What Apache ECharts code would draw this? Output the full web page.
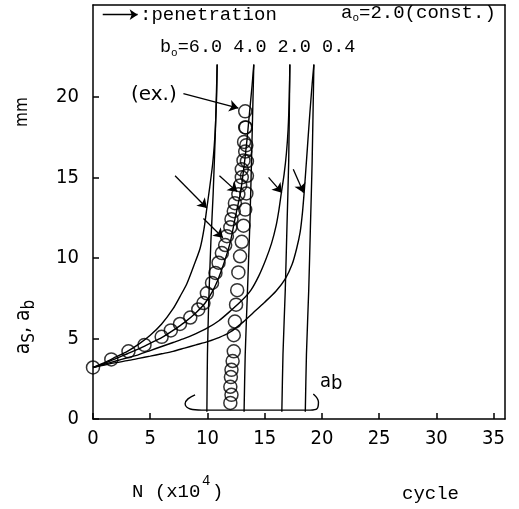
<!DOCTYPE html>
<html><head><meta charset="utf-8">
<script src="https://cdn.jsdelivr.net/npm/echarts@6/dist/echarts.min.js"></script>
<style>html,body{margin:0;padding:0;background:#fff}#c{width:519px;height:509px}</style>
</head><body><div id="c"></div>
<script>
// ---- tick values ----
const xTicks = [0, 5, 10, 15, 20, 25, 30, 35];
const yTicks = [0, 5, 10, 15, 20];
const bLabels = ['6.0', '4.0', '2.0', '0.4'];

// ---- computed surface crack a_s (N x10^4, mm) ----
const asB60 = [[0,3.2],[1,3.5],[2,3.85],[3,4.2],[4,4.65],[5,5.2],[6,5.9],[7,6.85],[7.6,7.6],[8.2,8.4],[8.8,9.5],[9.36,10.6],[9.7,11.8],[9.95,13.1],[10.2,14.4],[10.45,15.8],[10.6,17.0],[10.7,18.2],[10.8,20],[10.85,22]];
const asB40 = [[0,3.2],[1,3.45],[2,3.75],[3,4.05],[4,4.35],[5,4.7],[6,5.05],[7,5.5],[8,6.0],[9,6.6],[9.8,7.2],[10.5,8.0],[11.0,8.8],[11.5,9.8],[12.0,11.0],[12.4,12.4],[12.7,13.4],[12.9,14.1],[13.2,15.7],[13.45,17.3],[13.7,19.2],[13.9,20.7],[14.05,22]];
const asB20 = [[0,3.2],[1,3.4],[2,3.6],[3,3.8],[4,4.0],[5,4.25],[6,4.5],[7,4.75],[8,5.0],[9,5.3],[10,5.65],[11,6.1],[12,6.7],[13,7.35],[13.8,8.0],[14.5,8.9],[15.1,9.9],[15.6,10.9],[16.0,12.0],[16.25,13.0],[16.45,14.0],[16.7,15.2],[16.9,16.5],[17.05,18],[17.15,20],[17.2,22]];
const asB04 = [[0,3.2],[1,3.35],[2,3.5],[3,3.62],[4,3.76],[5,3.9],[6,4.05],[7,4.2],[8,4.4],[9,4.6],[10,4.8],[11,5.05],[12,5.4],[13,5.95],[14,6.6],[15,7.25],[16,7.95],[16.8,8.7],[17.4,9.6],[17.8,10.6],[18.1,11.6],[18.3,12.8],[18.45,14.05],[18.6,15.5],[18.75,17],[18.95,19],[19.15,20.8],[19.3,22]];

// ---- computed back crack a_b after penetration ----
const abB60 = [[9.95,0.45],[10.0,4],[10.1,7],[10.3,11],[10.5,14],[10.7,18],[10.85,22]];
const abB40 = [[13.2,0.45],[13.3,4],[13.5,8],[13.7,12],[13.85,16],[14.05,22]];
const abB20 = [[16.5,0.45],[16.6,4],[16.8,8],[16.95,12],[17.1,16],[17.2,22]];
const abB04 = [[18.55,0.45],[18.65,4],[18.85,8],[19.0,12],[19.15,16],[19.3,22]];

// ---- experiment (ex.) ----
const expAs = [[0,3.2],[1.6,3.7],[3.1,4.2],[4.5,4.6],[6.0,5.1],[6.8,5.5],[7.6,5.9],[8.5,6.3],[9.2,6.8],[9.65,7.2],[9.95,7.8],[10.4,8.45],[10.7,9.07],[10.97,9.7],[11.26,10.3],[11.55,10.8],[11.7,11.35],[12.0,11.9],[12.1,12.4],[12.3,12.9],[12.4,13.4],[12.7,13.95],[12.86,14.5],[13.0,15.0],[13.0,15.5],[13.15,16.05],[13.3,16.6],[13.2,17.2],[13.3,18.1],[13.3,19.1]];
const expAb = [[12.0,1.0],[12.1,1.5],[12.0,2.0],[12.05,2.6],[12.1,3.05],[12.2,3.6],[12.3,4.2],[12.3,5.2],[12.4,6.05],[12.5,7.1],[12.6,8.0],[12.7,9.1],[12.85,10.1],[13.0,11.0],[13.15,12.0],[13.3,13.0],[13.4,14.0],[13.45,15.1],[13.45,16.0],[13.4,17.0],[13.35,18.1]];

// ---- annotations (data coords) ----
const penArrows = [[[7.17,15.1],[9.95,13.1]],[[9.65,12.45],[11.35,11.25]],[[11.05,15.1],[12.6,14.1]],[[15.34,15.0],[16.5,14.05]],[[17.5,15.5],[18.4,14.05]]];
const exArrow = [[7.9,20.2],[12.7,19.3]];
const legendArrow = [[0.85,25.1],[3.9,25.1]];
const abBracket = [[8.92,1.5],[8.3,1.25],[8.05,0.95],[8.5,0.62],[9.5,0.55],[19.0,0.55],[19.57,0.63],[19.7,1.05],[19.25,1.55]];

const NARROW = "'Liberation Sans Narrow','DejaVu Sans Condensed',sans-serif";
const MONO = "'Liberation Mono','DejaVu Sans Mono',monospace";
const black = '#000';

function curve(data, smooth) {
  return {type:'line', data:data, smooth:smooth, symbol:'none', silent:true,
          lineStyle:{color:black, width:1.4}, z:2};
}
function arrows(list, size) {
  return {type:'lines', coordinateSystem:'cartesian2d', silent:true, z:4,
          data:list.map(c => ({coords:c})), symbol:['none','arrow'], symbolSize:size,
          lineStyle:{color:black, width:1.3, opacity:1, curveness:0}};
}
function circles(data) {
  return {type:'scatter', data:data, symbol:'circle', symbolSize:13, silent:true, z:3,
          itemStyle:{color:'rgba(255,255,255,0)', borderColor:black, borderWidth:1.5}};
}

const chart = echarts.init(document.getElementById('c'), null, {renderer:'canvas'});
chart.setOption({
  animation:false,
  backgroundColor:'#fff',
  grid:{left:93, right:14, top:5, bottom:90, containLabel:false, outerBoundsMode:'none'},
  xAxis:[{
    type:'value', min:0, max:36, interval:5,
    axisLine:{lineStyle:{color:black, width:1.5}},
    axisTick:{inside:true, length:6, lineStyle:{color:black, width:1.5}, customValues:xTicks},
    axisLabel:{color:black, fontSize:20, fontFamily:NARROW, margin:10, customValues:xTicks},
    splitLine:{show:false}
  },{
    type:'value', position:'top', min:0, max:36,
    axisLine:{show:true, onZero:false, lineStyle:{color:black, width:1.5}},
    axisTick:{show:false}, axisLabel:{show:false}, splitLine:{show:false}
  }],
  yAxis:[{
    type:'value', min:0, max:25.7, interval:5,
    axisLine:{lineStyle:{color:black, width:1.5}},
    axisTick:{inside:true, length:6, lineStyle:{color:black, width:1.5}, customValues:yTicks},
    axisLabel:{color:black, fontSize:20, fontFamily:NARROW, margin:14, customValues:yTicks},
    splitLine:{show:false}
  },{
    type:'value', position:'right', min:0, max:25.7,
    axisLine:{show:true, onZero:false, lineStyle:{color:black, width:1.5}},
    axisTick:{show:false}, axisLabel:{show:false}, splitLine:{show:false}
  }],
  series:[
    curve(asB60, 0.25), curve(asB40, 0.25), curve(asB20, 0.25), curve(asB04, 0.25),
    curve(abB60, 0.2), curve(abB40, 0.2), curve(abB20, 0.2), curve(abB04, 0.2),
    curve(abBracket, 0.4),
    circles(expAs), circles(expAb),
    arrows(penArrows, [0, 9]),
    arrows([exArrow], [0, 9]),
    arrows([legendArrow], [0, 8])
  ],
  graphic:[
    {type:'text', left:140, top:5, style:{text:':penetration', font:'19px ' + MONO, fill:black}},
    {type:'text', left:341, top:3, style:{
      text:'{m|a}{o|o}{m|=2.0(const.)}', fill:black,
      rich:{m:{fontSize:19, fontFamily:MONO, lineHeight:22}, o:{fontSize:11, fontFamily:MONO, lineHeight:12, verticalAlign:'bottom'}}}},
    {type:'text', left:160, top:38, style:{
      text:'{m|b}{o|o}{m|=' + bLabels.join(' ') + '}', fill:black,
      rich:{m:{fontSize:18.5, fontFamily:MONO, lineHeight:22}, o:{fontSize:11, fontFamily:MONO, lineHeight:12, verticalAlign:'bottom'}}}},
    {type:'text', left:131, top:85, style:{text:'(ex.)', font:"20px 'DejaVu Sans',sans-serif", fill:black}},
    {type:'text', left:320, top:372, style:{
      text:'{m|a}{s|b}', fill:black,
      rich:{m:{fontSize:20, fontFamily:NARROW, lineHeight:24}, s:{fontSize:20, fontFamily:NARROW, lineHeight:20, verticalAlign:'bottom'}}}},
    {type:'text', left:132, top:482, style:{text:'N (x10', font:'19px ' + MONO, fill:black}},
    {type:'text', left:202, top:474, style:{text:'4', font:'14px ' + MONO, fill:black}},
    {type:'text', left:212, top:482, style:{text:')', font:'19px ' + MONO, fill:black}},
    {type:'text', left:402, top:484, style:{text:'cycle', font:'19px ' + MONO, fill:black}},
    {type:'text', x:23, y:112, rotation:Math.PI/2, style:{text:'mm', font:'17px ' + NARROW, fill:black, align:'center', verticalAlign:'middle'}},
    {type:'text', x:24, y:327, rotation:Math.PI/2, style:{
      text:'{m|a}{s|S}{m|, a}{s|b}', fill:black, align:'center', verticalAlign:'middle',
      rich:{m:{fontSize:21, fontFamily:NARROW, lineHeight:28}, s:{fontSize:17, fontFamily:NARROW, lineHeight:17, verticalAlign:'bottom'}}}}
  ]
});
</script>
</body></html>
